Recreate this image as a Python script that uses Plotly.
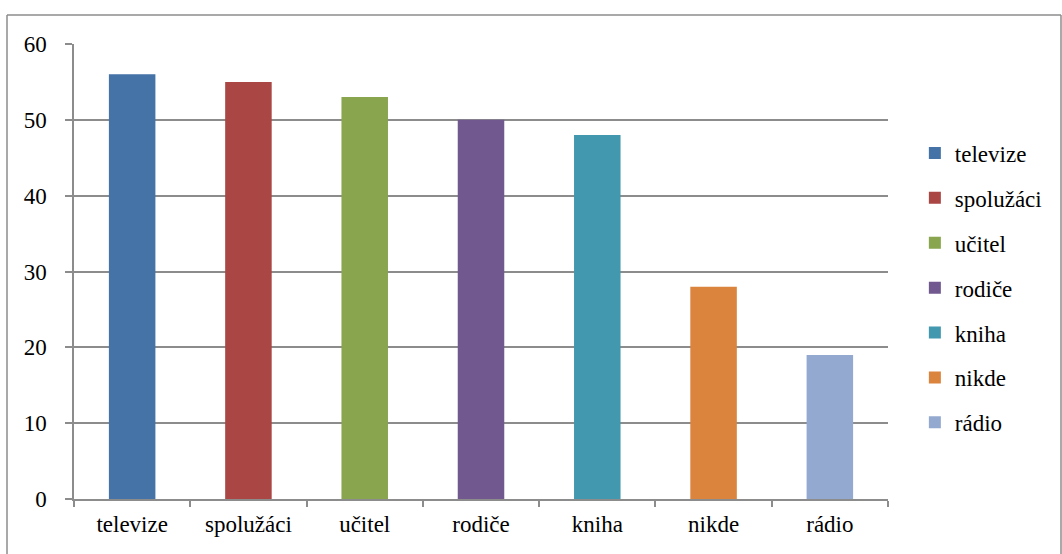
import plotly.graph_objects as go

categories = ["televize", "spolužáci", "učitel", "rodiče", "kniha", "nikde", "rádio"]
values = [56, 55, 53, 50, 48, 28, 19]
colors = ["#4572A7", "#AA4643", "#89A54E", "#71588F", "#4198AF", "#DB843D", "#93A9CF"]
y_ticks = [0, 10, 20, 30, 40, 50, 60]

W, H = 1062, 554
L, R, T, B = 74, 888, 44, 499
FONT = "Liberation Serif, Times New Roman, DejaVu Serif, serif"

fig = go.Figure()
for i, (c, v, col) in enumerate(zip(categories, values, colors)):
    fig.add_trace(go.Bar(x=[c], y=[v], name=c, marker=dict(color=col, line=dict(width=0)),
                         legendgroup=str(i), width=0.4))

pw, ph = R - L, B - T
def px(x): return (x - L) / pw
def py(y): return (B - y) / ph

line = dict(color="#8c8c8c", width=1.5)
shapes = [
    dict(type="line", xref="paper", yref="paper", x0=px(7), x1=px(1061), y0=py(15), y1=py(15), line=line),
    dict(type="line", xref="paper", yref="paper", x0=px(7), x1=px(7), y0=py(15), y1=py(560), line=line),
    dict(type="line", xref="paper", yref="paper", x0=px(1061), x1=px(1061), y0=py(15), y1=py(560), line=line),
]

fig.update_layout(
    width=W, height=H,
    margin=dict(l=L, r=W - R, t=T, b=H - B, autoexpand=False),
    paper_bgcolor="white", plot_bgcolor="white",
    barmode="overlay",
    font=dict(family=FONT, size=23, color="black"),
    showlegend=True,
    legend=dict(x=1.033, xanchor="left", y=py(288), yanchor="middle",
                traceorder="grouped", tracegroupgap=12, itemwidth=30,
                font=dict(family=FONT, size=23)),
    shapes=shapes,
    xaxis=dict(categoryorder="array", categoryarray=categories, showgrid=False,
               showline=True, linecolor="#8c8c8c", linewidth=1.5,
               ticks="outside", tickson="boundaries", ticklen=6, tickcolor="#8c8c8c",
               tickwidth=1.5, ticklabelstandoff=4, tickfont=dict(family=FONT, size=23)),
    yaxis=dict(range=[0, 60], tickvals=y_ticks, showgrid=True, gridcolor="#8c8c8c",
               gridwidth=1.5, showline=True, linecolor="#8c8c8c", linewidth=1.5,
               ticks="outside", ticklen=7, tickcolor="#8c8c8c", tickwidth=1.5,
               zeroline=False, ticklabelstandoff=14, tickfont=dict(family=FONT, size=23)),
)

fig.write_html("out.html")
